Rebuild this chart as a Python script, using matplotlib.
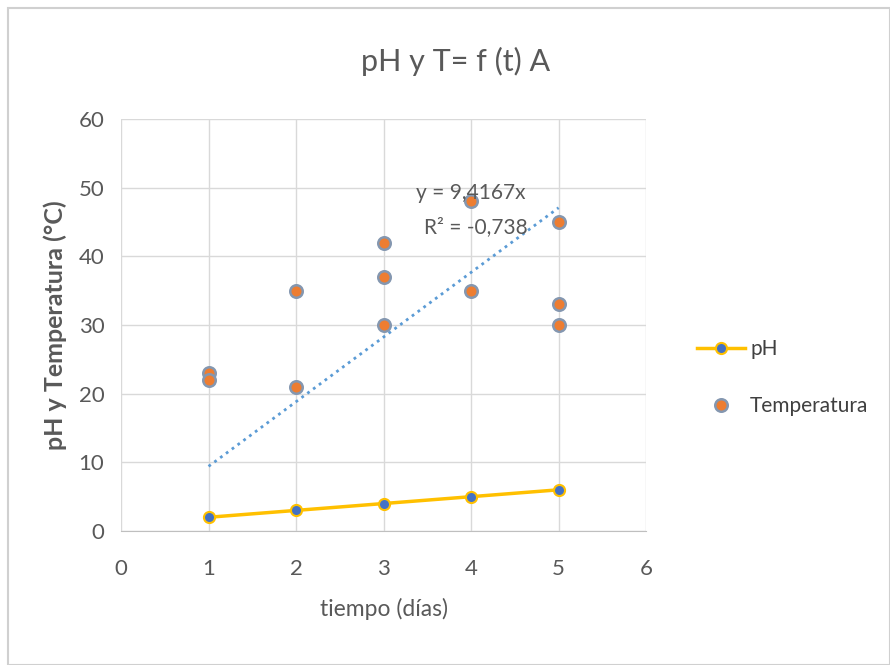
import numpy as np
import matplotlib.pyplot as plt
from matplotlib.patches import Rectangle

plt.rcParams['font.family'] = ['Lato', 'DejaVu Sans']

# pH readings per day
dias_ph = [1, 2, 3, 4, 5]
ph = [2, 3, 4, 5, 6]

# temperature readings (several per day)
dias_temp = [1, 1, 2, 2, 3, 3, 3, 4, 4, 5, 5, 5]
temperatura = [23, 22, 35, 21, 42, 37, 30, 48, 35, 45, 33, 30]

x_ticks = [0, 1, 2, 3, 4, 5, 6]
y_ticks = [0, 10, 20, 30, 40, 50, 60]

gris = '#595959'

fig = plt.figure(figsize=(8.9, 6.65), dpi=100)
fig.patches.append(Rectangle((0.009, 0.0), 0.991, 0.988, transform=fig.transFigure,
                             fill=False, edgecolor='#d0d0d0', linewidth=1.5))

ax = fig.add_axes([0.136, 0.2015, 0.59, 0.6195])

# trendline through origin: y = b*x
x = np.array(dias_temp, dtype=float)
y = np.array(temperatura, dtype=float)
b = (x * y).sum() / (x * x).sum()
xt = np.array([min(dias_temp), max(dias_temp)])
ax.plot(xt, b * xt, linestyle=(0, (1, 1.6)), color='#5B9BD5', linewidth=2, zorder=2)

ax.plot(dias_ph, ph, color='#FFC000', linewidth=2.5, marker='o', markersize=8,
        markerfacecolor='#4472C4', markeredgecolor='#FFC000', markeredgewidth=1.5,
        label='pH', zorder=3)
ax.plot(dias_temp, temperatura, linestyle='none', marker='o', markersize=9,
        markerfacecolor='#ED7D31', markeredgecolor='#8497B0', markeredgewidth=1.8,
        label='Temperatura', zorder=3)

ax.text(4.0, 49.3, f'y = {b:.4f}x'.replace('.', ','), color=gris, fontsize=15,
        ha='center', va='center', zorder=4)
ax.text(4.05, 44.2, 'R² = -0,738', color=gris, fontsize=15,
        ha='center', va='center', zorder=4)

ax.set_xlim(0, 6)
ax.set_ylim(0, 60)
ax.set_xticks(x_ticks)
ax.set_yticks(y_ticks)
ax.grid(True, color='#d9d9d9', linewidth=1)
ax.set_axisbelow(True)
for side in ['top', 'right', 'left']:
    ax.spines[side].set_visible(False)
ax.spines['bottom'].set_color('#bfbfbf')
ax.tick_params(length=0, labelsize=16, colors=gris)
ax.tick_params(axis='x', pad=20)
ax.tick_params(axis='y', pad=12)

fig.text(0.512, 0.907, 'pH y T= f (t) A', fontsize=22, color=gris,
         ha='center', va='center')
ax.set_xlabel('tiempo (días)', fontsize=16.5, color=gris, labelpad=14)
ax.set_ylabel('pH y Temperatura (°C)', fontsize=18, color=gris, fontweight='bold', labelpad=8)

leg = fig.legend(loc='center left', bbox_to_anchor=(0.762, 0.432), frameon=False,
                 fontsize=15, labelspacing=1.75, handlelength=2.3, handletextpad=0.25)
for t in leg.get_texts():
    t.set_color('#404040')

fig.savefig('out.png', dpi=100)
